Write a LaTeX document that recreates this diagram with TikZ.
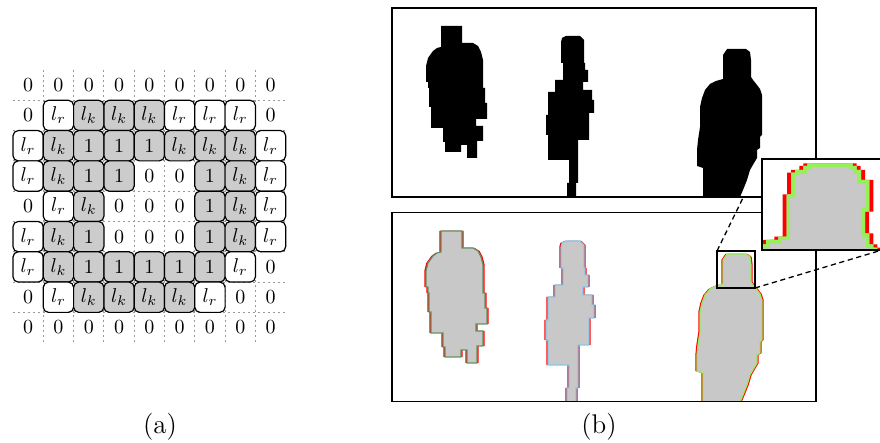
\documentclass[tikz,border=0pt]{standalone}
\usepackage{tikz}

\definecolor{boxgray}{gray}{0.8}
\definecolor{silgray}{RGB}{200,200,200}
\definecolor{outA}{RGB}{100,145,100}
\definecolor{outB}{RGB}{130,200,235}
\definecolor{outC}{RGB}{150,235,90}
\definecolor{pixgreen}{RGB}{150,240,90}

% silhouettes, in pixel coordinates of the upper panel
\newcommand\silA[1]{\path[#1] (441,26) -- (462,26) -- (462,43) -- (473,43) -- (478,46) -- (481,52) -- (483,60) -- (483,88) -- (485,88) -- (485,103) -- (487,103) -- (487,119) -- (476,119) -- (476,126) -- (483,126) -- (483,141) -- (477,141) -- (477,158) -- (467,158) -- (467,145) -- (461,145) -- (461,152) -- (445,152) -- (445,142) -- (443,142) -- (443,128) -- (431,128) -- (431,107) -- (429,107) -- (429,88) -- (428,88) -- (428,82) -- (426,82) -- (426,66) -- (428,58) -- (433,51) -- (437,48) -- (441,47) -- cycle;}
\newcommand\silB[1]{\path[#1] (562,38) -- (566,36) -- (580,36) -- (584,40) -- (584,63) -- (585,63) -- (585,70) -- (588,70) -- (588,82) -- (583,82) -- (583,90) -- (592,90) -- (592,100) -- (594,100) -- (594,113) -- (589,113) -- (589,140) -- (578,140) -- (578,183) -- (576,183) -- (576,202) -- (567,202) -- (567,183) -- (569,183) -- (569,160) -- (548,160) -- (548,135) -- (546,135) -- (546,115) -- (548,115) -- (548,92) -- (555,92) -- (555,80) -- (563,80) -- (563,63) -- (561,63) -- (561,42) -- cycle;}
\newcommand\silC[1]{\path[#1] (727,49) -- (746,49) -- (750,52) -- (751,60) -- (751,77) -- (753,80) -- (757,85) -- (760,89) -- (762,95) -- (762,135) -- (760,137) -- (760,148) -- (757,150) -- (757,158) -- (754,163) -- (750,170) -- (747,180) -- (743,190) -- (740,197) -- (739,202) -- (703,202) -- (703,168) -- (697,166) -- (697,150) -- (698,140) -- (700,127) -- (700,107) -- (702,98) -- (705,90) -- (710,84) -- (716,81) -- (723,79) -- (723,55) -- cycle;}
% magnified head, one pixel = 12 units
\newcommand\headpix[1]{\path[#1] (8,292) -- (8,268) -- (18,268) -- (18,255) -- (55,255) -- (55,245) -- (80,245) -- (80,118) -- (93,118) -- (93,53) -- (105,53) -- (105,45) -- (130,45) -- (130,33) -- (142,33) -- (142,25) -- (278,25) -- (278,33) -- (290,33) -- (290,45) -- (303,45) -- (303,75) -- (328,75) -- (328,170) -- (315,170) -- (315,235) -- (328,235) -- (328,268) -- (340,268) -- (340,278) -- (352,278) -- (352,292) -- cycle;}

\begin{document}
\begin{tikzpicture}[x=0.5pt,y=-0.5pt,
  cellbase/.style={minimum width=15.15pt,minimum height=15.15pt,inner sep=0pt,outer sep=0pt},
  boxed/.style={cellbase,draw,rounded corners=2.6pt,line width=0.6pt},
  cell0/.style={cellbase,node contents={$0$}},
  cellr/.style={boxed,fill=white,node contents={$l_r$}},
  cellk/.style={boxed,fill=boxgray,node contents={$l_k$}},
  cell1/.style={boxed,fill=boxgray,node contents={$1$}},
  gridline/.style={gray!80,line width=0.5pt,dash pattern=on 0.8pt off 1.7pt},
  panelbox/.style={minimum width=212pt,minimum height=94.5pt,inner sep=0pt,outer sep=0pt,fill=white},
  panelframe/.style={line width=0.65pt},
  srcbox/.style={draw,line width=0.65pt,minimum width=19pt,minimum height=18.5pt,inner sep=0pt,outer sep=0pt},
  insetbox/.style={fill=white,minimum width=60pt,minimum height=45.5pt,inner sep=0pt,outer sep=0pt},
  zoomline/.style={line width=0.65pt,dash pattern=on 2.6pt off 1.8pt},
  caption/.style={font=\fontsize{13.5}{16}\selectfont,anchor=base},
]
\useasboundingbox (0,0) rectangle (880,443);

% ---------- (a) label grid ----------
\foreach \k in {1,...,8} {
  \draw[gridline] ({13+30.3*\k},70) -- ({13+30.3*\k},343);
  \draw[gridline] (13,{70+30.3*\k}) -- (287,{70+30.3*\k});
}
\foreach \row [count=\i] in {
  {0,0,0,0,0,0,0,0,0},
  {0,r,k,k,k,r,r,r,0},
  {r,k,1,1,1,k,k,k,r},
  {r,k,1,1,0,0,1,k,r},
  {0,r,k,0,0,0,1,k,r},
  {r,k,1,0,0,0,1,k,r},
  {r,k,1,1,1,1,1,r,0},
  {0,r,k,k,k,k,r,0,0},
  {0,0,0,0,0,0,0,0,0}} {
  \foreach \v [count=\j] in \row {
    \node (g\i-\j) at ({13+30.3*(\j-0.5)},{70+30.3*(\i-0.5)}) [cell\v];
  }
}
\node[caption] (capa) at (160,434) {(a)};

% ---------- (b) lower panel: silhouettes with contours ----------
\node[panelbox] (tb) at (604,307) {};
\begin{scope}
  \clip (tb.south west) rectangle (tb.north east);
  \begin{scope}[shift={(0,205)}]
    \silA{fill=red,xshift=-0.85pt}
    \silA{fill=red,xshift=0.85pt}
    \silA{fill=silgray,draw=outA,line width=0.6pt}
    \silB{fill=red,xshift=-0.85pt}
    \silB{fill=red,xshift=0.85pt}
    \silB{fill=silgray,draw=outB,line width=0.6pt}
    \silC{fill=red,xshift=-0.85pt}
    \silC{fill=red,xshift=0.85pt}
    \silC{fill=silgray,draw=outC,line width=0.6pt}
  \end{scope}
\end{scope}
\draw[panelframe] (tb.south west) rectangle (tb.north east);
\node[srcbox] (zb) at (736,269.5) {};

% ---------- zoom guides ----------
\node[insetbox] (inset) at (822,204.5) {};
\draw[zoomline] (zb.north west) -- (inset.north west);
\draw[zoomline] (zb.south east) -- (inset.south east);

% ---------- (b) upper panel: binary masks ----------
\node[panelbox] (ta) at (604,102.5) {};
\begin{scope}
  \clip (ta.south west) rectangle (ta.north east);
  \silA{fill=black}
  \silB{fill=black}
  \silC{fill=black}
\end{scope}
\draw[panelframe] (ta.south west) rectangle (ta.north east);

% ---------- magnified inset ----------
\node[insetbox] (inset2) at (inset.center) {};
\begin{scope}
  \clip (inset.south west) rectangle (inset.north east);
  \begin{scope}[shift={(760,155)},x=0.1666667pt,y=-0.1666667pt]
    \headpix{fill=red,xshift=-2pt}
    \headpix{fill=red,xshift=2pt}
    \headpix{fill=silgray}
    \begin{scope}
      \headpix{clip}
      \headpix{draw=pixgreen,line width=3.7pt}
    \end{scope}
  \end{scope}
\end{scope}
\draw[panelframe] (inset.south west) rectangle (inset.north east);

\node[caption] (capb) at (599,434) {(b)};
\end{tikzpicture}
\end{document}
